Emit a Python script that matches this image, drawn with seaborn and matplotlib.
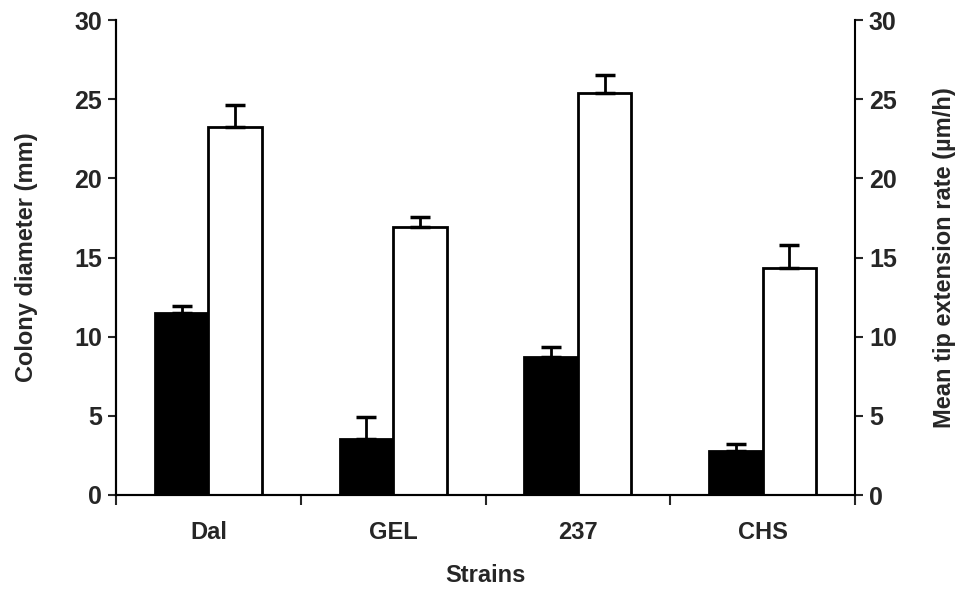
import numpy as np
import pandas as pd
import seaborn as sns
import matplotlib.pyplot as plt
from matplotlib.ticker import FixedLocator

# Values
strains = ['Dal', 'GEL', '237', 'CHS']
colony_diameter = [11.5, 3.55, 8.7, 2.8]          # mm
colony_err = [0.45, 1.4, 0.65, 0.4]
tip_rate = [23.25, 16.9, 25.4, 14.35]             # um/h
tip_err = [1.35, 0.65, 1.1, 1.45]

sns.set_theme(style='white')
plt.rcParams['font.family'] = ['Liberation Sans', 'DejaVu Sans']
plt.rcParams['font.weight'] = 'bold'

data = pd.DataFrame({
    'strain': strains * 2,
    'value': colony_diameter + tip_rate,
    'measure': ['diameter'] * 4 + ['tip'] * 4,
})

fig = plt.figure(figsize=(9.55, 5.93), dpi=100)
ax = fig.add_axes([116 / 955, 98 / 593, 739 / 955, 475 / 593])

sns.barplot(data=data, x='strain', y='value', hue='measure', order=strains,
            hue_order=['diameter', 'tip'], palette=['black', 'white'],
            edgecolor='black', linewidth=2, width=0.58, errorbar=None,
            legend=False, ax=ax)

# error bars (upper only) at the bar centres seaborn used
errs = {'diameter': colony_err, 'tip': tip_err}
vals = {'diameter': colony_diameter, 'tip': tip_rate}
for container, key in zip(ax.containers, ['diameter', 'tip']):
    xs = [p.get_x() + p.get_width() / 2 for p in container.patches]
    ax.errorbar(xs, vals[key], yerr=[np.zeros(4), errs[key]], fmt='none',
                ecolor='black', elinewidth=2, capsize=7, capthick=2.5)

ax.set_xlim(-0.5, 3.5)
ax.set_ylim(0, 30)
ax.set_yticks(range(0, 31, 5))
ax.set_xlabel('Strains', fontsize=17, fontweight='bold', labelpad=14)
ax.set_ylabel('Colony diameter (mm)', fontsize=17, fontweight='bold', labelpad=26)
ax.tick_params(axis='y', labelsize=18, length=6, width=1.5, direction='out',
               left=True, pad=4)
ax.tick_params(axis='x', labelsize=17, length=0, pad=19)
ax.xaxis.set_minor_locator(FixedLocator([-0.5, 0.5, 1.5, 2.5, 3.5]))
ax.tick_params(axis='x', which='minor', bottom=True, length=7, width=1.5,
               direction='out')
for lab in ax.get_xticklabels() + ax.get_yticklabels():
    lab.set_fontweight('bold')

ax2 = ax.twinx()
ax2.set_ylim(0, 30)
ax2.set_yticks(range(0, 31, 5))
ax2.set_ylabel('Mean tip extension rate (µm/h)', fontsize=17,
               fontweight='bold', labelpad=26)
ax2.tick_params(axis='y', labelsize=18, length=6, width=1.5, direction='out',
                right=True, pad=4)
for lab in ax2.get_yticklabels():
    lab.set_fontweight('bold')

for a in (ax, ax2):
    a.spines['top'].set_visible(False)
    for s in ('left', 'right', 'bottom'):
        a.spines[s].set_color('black')
        a.spines[s].set_linewidth(1.5)
ax.spines['right'].set_visible(False)

fig.savefig('out.png', dpi=100, facecolor='white')
